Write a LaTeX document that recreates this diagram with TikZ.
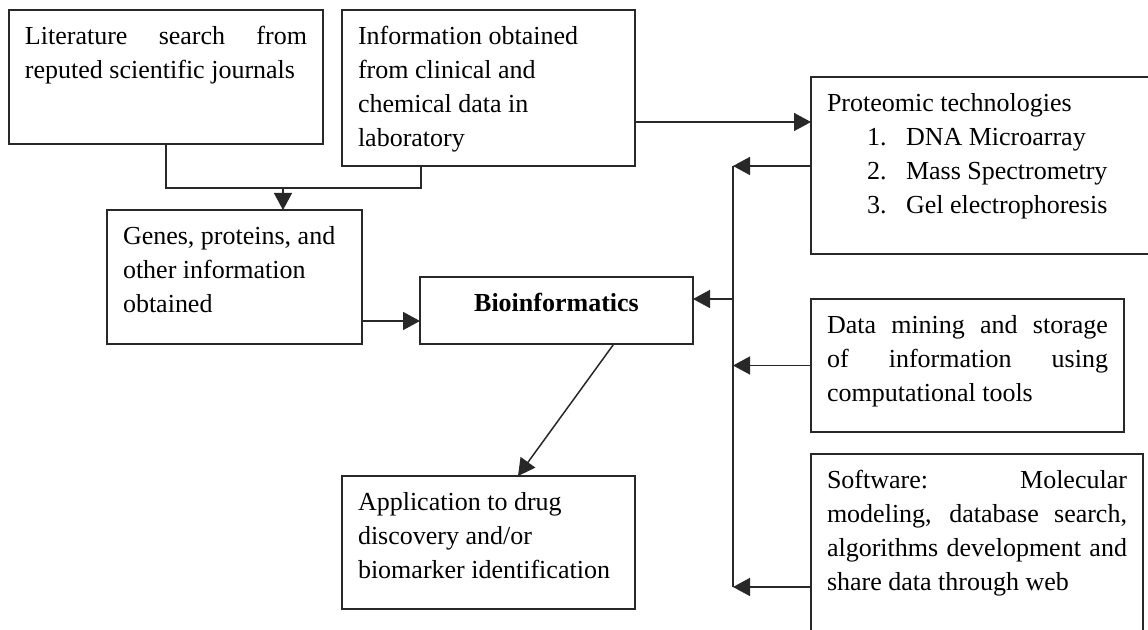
\documentclass[tikz,border=0pt]{standalone}
\usepackage{fontspec}
\setmainfont{Liberation Serif}
\usetikzlibrary{arrows.meta,calc}
\definecolor{linec}{RGB}{40,40,40}
\newcommand{\bxt}[3]{\parbox[t][#2][t]{#1}{\rule{0pt}{17.5pt}#3}}
\newcommand{\jl}[1]{\makebox[\linewidth][s]{#1}}
\begin{document}
\begin{tikzpicture}[x=0.5pt,y=-0.5pt,
  box/.style={draw=linec, line width=0.75pt, anchor=north west, inner xsep=8pt, inner ysep=0pt, outer sep=0pt, font=\fontsize{13pt}{17pt}\selectfont},
  arr/.style={draw=linec, line width=0.75pt, -{Triangle[length=8.5pt,width=9pt]}},
  ln/.style={draw=linec, line width=0.75pt}]
\useasboundingbox (0,0) rectangle (1148,630);
\fill[white] (0,0) rectangle (1148,630);
\clip (0,0) rectangle (1148,630);

\node[box] (lit) at (9,10) {\bxt{141pt}{67pt}{\jl{Literature search from}\\reputed scientific journals}};
\node[box] (info) at (342,10) {\bxt{130.5pt}{78pt}{Information obtained\\from clinical and\\chemical data in\\laboratory}};
\node[box] (genes) at (107,210) {\bxt{111.5pt}{67pt}{Genes, proteins, and\\other information\\obtained}};
\node[box] (bio) at (420,277) {\bxt{120.5pt}{33.5pt}{\centering\bfseries Bioinformatics}};
\node[box] (app) at (342,476) {\bxt{130.5pt}{66.5pt}{Application to drug\\discovery and/or\\biomarker identification}};
\node[box] (prot) at (811,77) {\bxt{165pt}{88.5pt}{Proteomic technologies\\
  \hspace*{20pt}\makebox[19.5pt][l]{1.}DNA Microarray\\
  \hspace*{20pt}\makebox[19.5pt][l]{2.}Mass Spectrometry\\
  \hspace*{20pt}\makebox[19.5pt][l]{3.}Gel electrophoresis}};
\node[box] (data) at (811,299) {\bxt{140.5pt}{66.5pt}{\jl{Data mining and storage}\\\jl{of information using}\\computational tools}};
\node[box] (soft) at (811,454) {\bxt{150pt}{95pt}{\jl{Software: Molecular}\\\jl{modeling, database search,}\\\jl{algorithms development and}\\share data through web}};

% top connector
\coordinate (mid) at (283,188);
\draw[ln] (lit.south) |- (mid) -| ($(info.south west)+(79,0)$);
\draw[arr] (mid) -- (mid |- genes.north);

% info -> proteomic
\coordinate (ya) at (0,122);
\draw[arr] (info.east |- ya) -- (prot.west |- ya);

% bus
\coordinate (bt) at (733,166);
\coordinate (bb) at (733,587);
\draw[arr] (prot.west |- bt) -- (bt);
\draw[ln] (bt) -- (bb);
\coordinate (yb) at (0,299);
\draw[arr] (bt |- yb) -- (bio.east |- yb);
\draw[arr] (data.west) -- (data.west -| bt);
\draw[arr] (soft.west |- bb) -- (bb);

% genes -> bio
\coordinate (yc) at (0,321);
\draw[arr] (genes.east |- yc) -- (bio.west |- yc);

% bio -> app
\draw[arr] ($(bio.south west)!0.71!(bio.south east)$) -- ($(app.north west)+(176,0)$);
\end{tikzpicture}
\end{document}
